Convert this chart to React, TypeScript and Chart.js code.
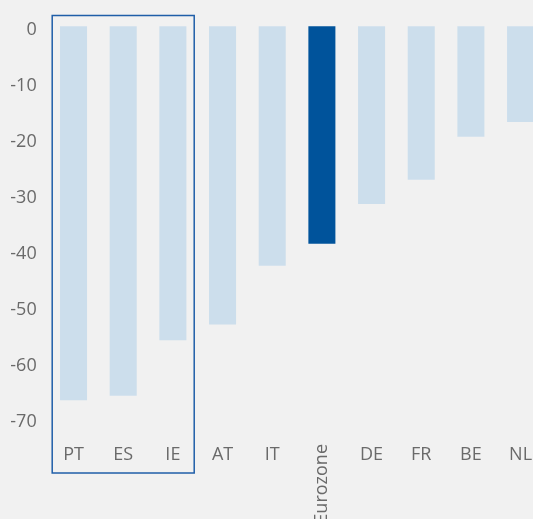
import React, { useEffect, useRef } from 'react';
import { Chart, registerables } from 'chart.js';

Chart.register(...registerables);

const categories = ['PT', 'ES', 'IE', 'AT', 'IT', 'Eurozone', 'DE', 'FR', 'BE', 'NL'];
const values = [-66.1, -65.3, -55.4, -52.6, -42.1, -38.2, -31.1, -26.8, -19.1, -16.5];
const highlighted = ['Eurozone'];
const boxedCategories = ['PT', 'ES', 'IE'];
const yTicks = [0, -10, -20, -30, -40, -50, -60, -70];

const BG = '#f1f1f1';
const LIGHT = '#ccdeec';
const DARK = '#00539b';
const TEXT = '#6a6a6a';
const BOX = '#1f5ea8';
const FONT_FAMILY = '"Open Sans", "Noto Sans", sans-serif';

const customPlugin = {
  id: 'customLabelsAndBox',
  beforeDraw(chart: any) {
    const ctx = chart.ctx;
    ctx.save();
    ctx.fillStyle = BG;
    ctx.fillRect(0, 0, chart.width, chart.height);
    ctx.restore();
  },
  afterDraw(chart: any) {
    const ctx = chart.ctx;
    const x = chart.scales.x;
    ctx.save();
    ctx.font = `18px ${FONT_FAMILY}`;
    ctx.fillStyle = TEXT;
    categories.forEach((c, i) => {
      const px = x.getPixelForValue(i);
      if (c === 'Eurozone') {
        ctx.save();
        ctx.translate(px, 444);
        ctx.rotate(-Math.PI / 2);
        ctx.textAlign = 'right';
        ctx.textBaseline = 'middle';
        ctx.fillText(c, 0, 0);
        ctx.restore();
      } else {
        ctx.textAlign = 'center';
        ctx.textBaseline = 'middle';
        ctx.fillText(c, px, 455);
      }
    });
    const first = categories.indexOf(boxedCategories[0]);
    const last = categories.indexOf(boxedCategories[boxedCategories.length - 1]);
    const half = (x.getPixelForValue(1) - x.getPixelForValue(0)) / 2;
    const left = x.getPixelForValue(first) - half + 3.5;
    const right = x.getPixelForValue(last) + half - 3.5;
    ctx.strokeStyle = BOX;
    ctx.lineWidth = 1.5;
    ctx.strokeRect(left, 15.5, right - left, 473 - 15.5);
    ctx.restore();
  },
};

export default function App() {
  const ref = useRef<HTMLCanvasElement | null>(null);

  useEffect(() => {
    document.body.style.margin = '0';
    document.body.style.overflow = 'hidden';
    document.body.style.background = BG;
    if (!ref.current) return;
    const chart = new Chart(ref.current, {
      type: 'bar',
      data: {
        labels: categories,
        datasets: [
          {
            data: values,
            backgroundColor: categories.map((c) => (highlighted.includes(c) ? DARK : LIGHT)),
            base: 0.6,
            barPercentage: 0.544,
            categoryPercentage: 1,
            borderWidth: 0,
          } as any,
        ],
      },
      options: {
        responsive: false,
        animation: false,
        devicePixelRatio: 1,
        layout: { padding: { top: 15.5, bottom: 52, right: 14.6, left: 0 } },
        plugins: { legend: { display: false }, tooltip: { enabled: false } },
        scales: {
          x: { display: false },
          y: {
            min: -78,
            max: 2.5,
            grid: { display: false, drawTicks: false },
            border: { display: false },
            afterBuildTicks: (scale: any) => {
              scale.ticks = yTicks.map((v) => ({ value: v }));
            },
            afterFit: (scale: any) => {
              scale.width = 48.7;
              scale.paddingTop = 0;
              scale.paddingBottom = 0;
            },
            ticks: {
              color: TEXT,
              padding: 12,
              font: { size: 18, family: FONT_FAMILY },
            },
          },
        },
      },
      plugins: [customPlugin],
    });
    return () => chart.destroy();
  }, []);

  return (
    <div style={{ position: 'absolute', left: 0, top: 0, width: 533, height: 519, overflow: 'hidden', background: BG }}>
      <canvas ref={ref} width={560} height={519} style={{ display: 'block' }} />
    </div>
  );
}
